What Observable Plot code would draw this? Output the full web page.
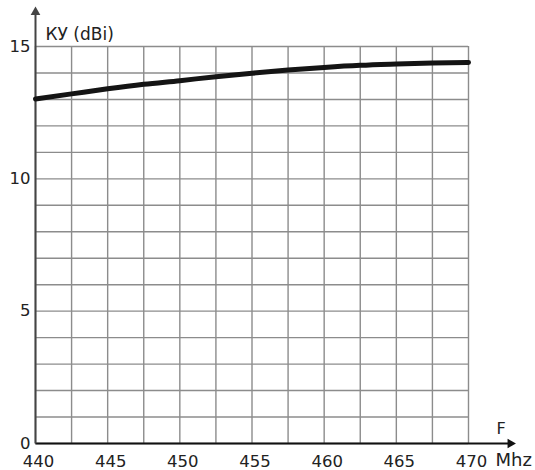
<!DOCTYPE html>
<html>
<head>
<meta charset="utf-8">
<script src="https://cdn.jsdelivr.net/npm/d3@7"></script>
<script src="https://cdn.jsdelivr.net/npm/@observablehq/plot@0.6"></script>
<style>
  html, body { margin: 0; padding: 0; background: #fff; }
  #chart svg { display: block; }
</style>
</head>
<body>
<div id="chart"></div>
<script>
// Frequency (MHz) and gain (dBi)
const freq = [440, 442.5, 445, 447.5, 450, 452.5, 455, 457.5, 460, 462.5, 465, 467.5, 470];
const gain = [13.02, 13.21, 13.40, 13.57, 13.71, 13.86, 13.99, 14.11, 14.21, 14.29, 14.34, 14.38, 14.40];

const xTicks = [440, 445, 450, 455, 460, 465, 470];
const yTicks = [0, 5, 10, 15];
const xGrid = [440, 442.5, 445, 447.5, 450, 452.5, 455, 457.5, 460, 462.5, 465, 467.5, 470];
const yGrid = [0,1,2,3,4,5,6,7,8,9,10,11,12,13,14,15];

const xAxisEnd = 472.9;   // arrow tip of F axis
const yAxisEnd = 16.3;    // arrow tip of КУ axis
const yLabel = "КУ (dBi)";
const xLabel = "F";
const xUnit = "Mhz";

const data = freq.map((f, i) => ({f, g: gain[i]}));
const axes = [
  {x1: 440, y1: 0, x2: xAxisEnd, y2: 0, rot: 90, ax: "x"},
  {x1: 440, y1: 0, x2: 440, y2: yAxisEnd, rot: 0, ax: "y"}
];

const chart = Plot.plot({
  width: 535,
  height: 470,
  marginTop: 46,
  marginRight: 67,
  marginBottom: 27,
  marginLeft: 35,
  style: {fontFamily: "'DejaVu Sans', sans-serif", background: "#fff", overflow: "visible"},
  x: {domain: [440, 470]},
  y: {domain: [0, 15]},
  marks: [
    Plot.ruleX(xGrid, {stroke: "#8c8c8c", strokeWidth: 1.4}),
    Plot.ruleY(yGrid, {stroke: "#8c8c8c", strokeWidth: 1.4}),
    Plot.link(axes, {x1: "x1", y1: "y1", x2: "x2", y2: "y2",
      stroke: d => d.ax === "x" ? "#111" : "#444", strokeWidth: 2, clip: false}),
    Plot.dot(axes, {x: "x2", y: "y2", symbol: "triangle", rotate: "rot", r: 3.6,
      fill: d => d.ax === "x" ? "#111" : "#444", stroke: null, clip: false}),
    Plot.line(data, {x: "f", y: "g", curve: "monotone-x", stroke: "#141414", strokeWidth: 5}),
    Plot.axisX(xTicks, {tickSize: 0, tickPadding: 12, dx: 3, fontSize: 16.5, fill: "#222", label: null}),
    Plot.axisY(yTicks, {tickSize: 0, tickPadding: 5, fontSize: 16.5, fill: "#222", label: null}),
    Plot.text([yLabel], {frameAnchor: "top-left", dx: 10, dy: -19, textAnchor: "start", fontSize: 17, fill: "#222"}),
    Plot.text([xLabel], {frameAnchor: "bottom-right", dx: 28, dy: -10, textAnchor: "start", fontSize: 16, fill: "#222"}),
    Plot.text([xUnit], {frameAnchor: "bottom-right", dx: 27, dy: 22, textAnchor: "start", fontSize: 18, fill: "#222"})
  ]
});
document.getElementById("chart").appendChild(chart);
</script>
</body>
</html>
